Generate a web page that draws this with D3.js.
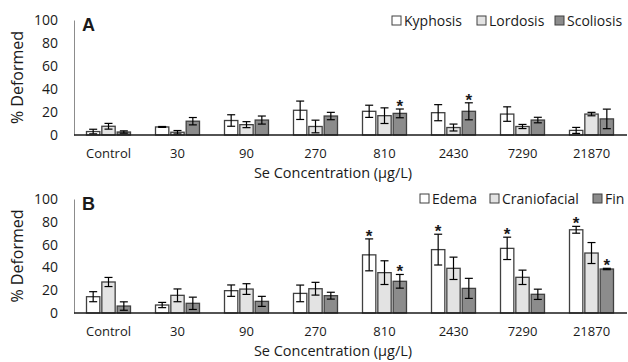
<!DOCTYPE html>
<html>
<head>
<meta charset="utf-8">
<script src="https://cdn.jsdelivr.net/npm/d3@7"></script>
<style>
  body { margin: 0; background: #fff; }
  text { font-family: "Open Sans", sans-serif; fill: #1a1a1a; }
</style>
</head>
<body>
<svg id="chart" width="628" height="362"></svg>
<script>
var concentrations = ["Control", "30", "90", "270", "810", "2430", "7290", "21870"];
var yTicks = [0, 20, 40, 60, 80, 100];

// panel A: skeletal deformities
var seriesA = ["Kyphosis", "Lordosis", "Scoliosis"];
var kyphosis    = [3, 7, 12.6, 21.5, 20.6, 19.4, 18.2, 4];
var kyphosisErr = [2, 0.4, 5, 8, 5.3, 7, 6.3, 2.6];
var lordosis    = [7.6, 2.4, 9, 7.4, 16.8, 6.5, 7.4, 18.2];
var lordosisErr = [2.5, 1.5, 2.6, 5.5, 6.8, 3, 1.8, 1.5];
var scoliosis    = [2.6, 12, 13, 16.5, 18.8, 20.6, 13, 14];
var scoliosisErr = [1, 3.2, 3.5, 3.2, 3.8, 7.4, 2.4, 8.5];
var starsA = [[4, 2], [5, 2]];   // [category index, series index]

// panel B: other deformities
var seriesB = ["Edema", "Craniofacial", "Fin"];
var edema    = [14.3, 7, 19.6, 17.2, 51, 55.6, 56.7, 73];
var edemaErr = [4.4, 2.3, 5, 7.3, 14, 13.5, 9.8, 3];
var cranio    = [27.2, 15.5, 21, 21.3, 35.4, 39.2, 31.3, 52.6];
var cranioErr = [4, 5.6, 4.7, 5.6, 10.4, 9.8, 6.3, 9.2];
var fin    = [6.1, 8.5, 10.2, 15.2, 27.8, 21.6, 16.4, 38.6];
var finErr = [3.7, 5.4, 4.4, 3, 6, 8.8, 4.5, 0.6];
var starsB = [[4, 0], [4, 2], [5, 0], [6, 0], [7, 0], [7, 2]];

var fills = ["#ffffff", "#e3e3e3", "#8c8c8c"];

var svg = d3.select("#chart");

function drawPanel(opts) {
  var g = svg.append("g");
  var x = d3.scaleBand().domain(concentrations).range([74, 626]).paddingInner(0).paddingOuter(0);
  var x1 = d3.scaleBand().domain([0, 1, 2]).range([0, 44]).paddingInner(0.13);
  var y = d3.scaleLinear().domain([0, 100]).range([opts.y0, opts.y1]);

  // y axis
  var yAxis = g.append("g").attr("transform", "translate(74,0)")
    .call(d3.axisLeft(y).tickValues(yTicks).tickSize(0).tickPadding(16));
  yAxis.select(".domain").attr("stroke", "#8c8c8c").attr("stroke-width", 1);
  yAxis.selectAll("text").style("font-size", "14px").attr("fill", "#1a1a1a");

  // x axis labels
  var xAxis = g.append("g").attr("transform", "translate(0," + opts.y0 + ")")
    .call(d3.axisBottom(x).tickSize(0).tickPadding(14));
  xAxis.select(".domain").remove();
  xAxis.selectAll("text").style("font-size", "13px").attr("fill", "#1a1a1a");

  var groups = g.selectAll(".grp").data(opts.data).enter().append("g")
    .attr("transform", function(d, i) { return "translate(" + (x(concentrations[i]) + x.bandwidth() / 2 - 22) + ",0)"; });

  groups.each(function(d) {
    var gg = d3.select(this);
    d.forEach(function(v, s) {
      var bx = x1(s), bw = x1.bandwidth();
      gg.append("rect").attr("x", bx).attr("y", y(v.val)).attr("width", bw)
        .attr("height", opts.y0 - y(v.val))
        .attr("fill", fills[s]).attr("stroke", "#404040").attr("stroke-width", 1.3);
      var cx = bx + bw / 2;
      var lo = y(Math.max(0, v.val - v.err)), hi = y(v.val + v.err);
      gg.append("line").attr("x1", cx).attr("x2", cx).attr("y1", lo).attr("y2", hi)
        .attr("stroke", "#000").attr("stroke-width", 1.2);
      [lo, hi].forEach(function(yy) {
        gg.append("line").attr("x1", cx - 4).attr("x2", cx + 4).attr("y1", yy).attr("y2", yy)
          .attr("stroke", "#000").attr("stroke-width", 1.2);
      });
    });
  });

  // significance stars
  opts.stars.forEach(function(st) {
    var v = opts.data[st[0]][st[1]];
    g.append("text")
      .attr("x", x(concentrations[st[0]]) + x.bandwidth() / 2 - 22 + x1(st[1]) + x1.bandwidth() / 2)
      .attr("y", y(v.val + v.err) + 3)
      .attr("text-anchor", "middle").style("font-size", "17px").style("font-weight", "bold")
      .style("font-family", "Liberation Sans, sans-serif").text("*");
  });

  // x axis line
  g.append("line").attr("x1", 74).attr("x2", 627).attr("y1", opts.y0).attr("y2", opts.y0)
    .attr("stroke", "#1a1a1a").attr("stroke-width", 1.5);

  // axis titles
  g.append("text").attr("x", 333).attr("y", opts.y0 + 43).attr("text-anchor", "middle")
    .style("font-size", "14.5px").text("Se Concentration (µg/L)");
  g.append("text").attr("transform", "translate(23," + ((opts.y0 + opts.y1) / 2) + ") rotate(-90)")
    .attr("text-anchor", "middle").style("font-size", "16px").text("% Deformed");

  // panel letter
  g.append("text").attr("x", 82).attr("y", opts.y1 + 11)
    .style("font-family", "Liberation Sans, sans-serif").style("font-weight", "bold")
    .style("font-size", "18px").text(opts.letter);

  // legend
  var leg = g.append("g");
  opts.legend.forEach(function(L, i) {
    leg.append("rect").attr("x", L.x).attr("y", opts.legY - 5).attr("width", 9).attr("height", 9)
      .attr("fill", fills[i]).attr("stroke", "#404040").attr("stroke-width", 1);
    leg.append("text").attr("x", L.x + 12).attr("y", opts.legY + 5)
      .style("font-size", "14px").text(L.name);
  });
}

function zipData(vals, errs) {
  return concentrations.map(function(c, i) {
    return vals.map(function(arr, s) { return { val: arr[i], err: errs[s][i] }; });
  });
}

drawPanel({
  letter: "A", y0: 135, y1: 20, legY: 21,
  data: zipData([kyphosis, lordosis, scoliosis], [kyphosisErr, lordosisErr, scoliosisErr]),
  stars: starsA,
  legend: [{ name: seriesA[0], x: 392 }, { name: seriesA[1], x: 477 }, { name: seriesA[2], x: 555 }]
});

drawPanel({
  letter: "B", y0: 313, y1: 199, legY: 199,
  data: zipData([edema, cranio, fin], [edemaErr, cranioErr, finErr]),
  stars: starsB,
  legend: [{ name: seriesB[0], x: 420 }, { name: seriesB[1], x: 490 }, { name: seriesB[2], x: 593 }]
});
</script>
</body>
</html>
